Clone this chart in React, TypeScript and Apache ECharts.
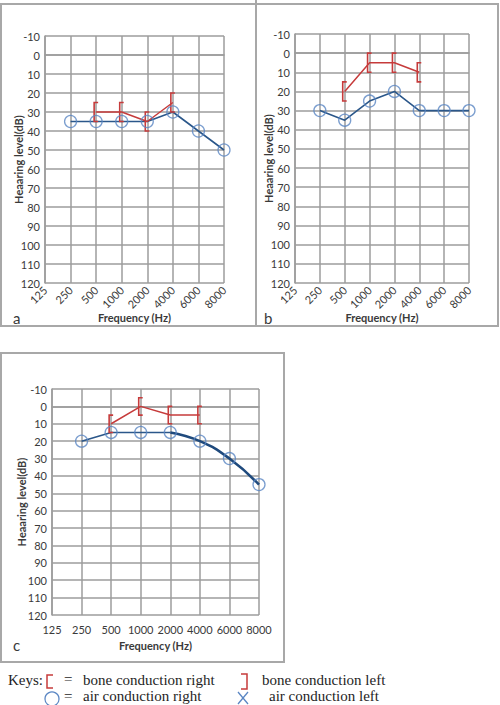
import React, { useEffect, useRef } from "react";
import * as echarts from "echarts";

// Audiogram frequencies (Hz) and hearing thresholds (dB HL) for three cases
const freqLabels = ["125", "250", "500", "1000", "2000", "4000", "6000", "8000"];

const airRightA = [null, 35, 35, 35, 35, 30, 40, 50];
const boneRightA = [null, null, 30, 30, 35, 25, null, null];

const airRightB = [null, 30, 35, 25, 20, 30, 30, 30];
const boneRightB = [null, null, 20, 5, 5, 10, null, null];

const airRightC = [null, 20, 15, 15, 15, 20, 30, 45];
const boneRightC = [null, null, 10, 0, 5, 5, null, null];

const yMin = -10;
const yMax = 120;
const yStep = 10;

const RED = "#c63b3b";
const BLUE_LINE = "#2b578a";
const BLUE_MARK = "#5a86c3";
const GRID = "#9c9c9c";
const TEXT = "#3a3a3a";
const FONT = "Lato, 'Open Sans', sans-serif";
const SERIF = "'Liberation Serif', 'DejaVu Serif', serif";

type Panel = {
  left: number;
  top: number;
  width: number;
  height: number;
  rotate: number;
  nameGap: number;
  yNameGap: number;
};

const panels: Panel[] = [
  { left: 45, top: 36, width: 179, height: 247, rotate: 45, nameGap: 29, yNameGap: 21 },
  { left: 295, top: 34, width: 174, height: 249, rotate: 45, nameGap: 29, yNameGap: 21 },
  { left: 52, top: 389, width: 207, height: 226, rotate: 0, nameGap: 25, yNameGap: 25 },
];

const toPoints = (arr: (number | null)[]) =>
  arr
    .map((v, i) => (v == null ? null : [i, v]))
    .filter((p) => p !== null) as number[][];

// Bone conduction mark: an opening bracket spanning +/-5 dB around the threshold
const bracketItem = (_params: any, api: any) => {
  const idx = api.value(0);
  const v = api.value(1);
  const top = api.coord([idx, v - 5]);
  const bot = api.coord([idx, v + 5]);
  const x = top[0] - 2;
  return {
    type: "polyline",
    shape: {
      points: [
        [x + 4, top[1]],
        [x, top[1]],
        [x, bot[1]],
        [x + 4, bot[1]],
      ],
    },
    style: { stroke: RED, lineWidth: 1.6, fill: "none" },
  };
};

export default function App() {
  const ref = useRef<HTMLDivElement>(null);

  useEffect(() => {
    if (!ref.current) return;
    const chart = echarts.init(ref.current, null, { renderer: "svg" });

    const grids = panels.map((p) => ({
      left: p.left,
      top: p.top,
      width: p.width,
      height: p.height,
      containLabel: false,
    }));

    const xAxes = panels.map((p, i) => ({
      type: "category",
      gridIndex: i,
      data: freqLabels,
      boundaryGap: false,
      name: "Frequency (Hz)",
      nameLocation: "middle",
      nameGap: p.nameGap,
      nameMoveOverlap: false,
      nameTextStyle: { fontFamily: FONT, fontSize: 11, fontWeight: "bold", color: TEXT },
      axisLine: { show: true, lineStyle: { color: GRID, width: 1.5 } },
      axisTick: { show: false },
      axisLabel: {
        interval: 0,
        rotate: p.rotate,
        margin: p.rotate ? 5 : 9,
        fontFamily: FONT,
        fontSize: 11,
        color: TEXT,
      },
      splitLine: { show: true, interval: 0, lineStyle: { color: GRID, width: 1.5 } },
    }));

    const yAxes = panels.map((p, i) => ({
      type: "value",
      gridIndex: i,
      inverse: true,
      min: yMin,
      max: yMax,
      interval: yStep,
      name: "Heaaring level(dB)",
      nameLocation: "middle",
      nameGap: p.yNameGap,
      nameMoveOverlap: false,
      nameTextStyle: { fontFamily: FONT, fontSize: 11, fontWeight: "bold", color: TEXT },
      axisLine: { show: true, lineStyle: { color: GRID, width: 1.5 } },
      axisTick: { show: false },
      axisLabel: { margin: 5, fontFamily: FONT, fontSize: 11, color: TEXT },
      splitLine: { show: true, lineStyle: { color: GRID, width: 1.5 } },
    }));

    const series: any[] = [];
    const sets = [
      { air: airRightA, bone: boneRightA },
      { air: airRightB, bone: boneRightB },
      { air: airRightC, bone: boneRightC },
    ];

    sets.forEach((s, i) => {
      const axisRef = { xAxisIndex: i, yAxisIndex: i };
      if (i < 2) {
        series.push({
          type: "line",
          ...axisRef,
          data: s.air,
          showSymbol: false,
          symbol: "none",
          lineStyle: { color: BLUE_LINE, width: 1.6 },
          z: 3,
        });
      } else {
        // straight segments up to 2 kHz, then a fitted curve over the high frequencies
        const split = 4;
        series.push({
          type: "line",
          ...axisRef,
          data: s.air.map((v, k) => (k <= split ? v : null)),
          symbol: "none",
          lineStyle: { color: BLUE_LINE, width: 1.6 },
          z: 3,
        });
        series.push({
          type: "line",
          ...axisRef,
          data: s.air.map((v, k) => (k >= split ? v : null)),
          symbol: "none",
          smooth: 0.5,
          lineStyle: { color: "#1f4a7d", width: 2.6 },
          z: 3,
        });
      }
      series.push({
        type: "line",
        ...axisRef,
        data: s.bone,
        symbol: "none",
        lineStyle: { color: RED, width: 1.5 },
        z: 4,
      });
      series.push({
        type: "custom",
        ...axisRef,
        data: toPoints(s.bone),
        renderItem: bracketItem,
        z: 5,
      });
      series.push({
        type: "scatter",
        ...axisRef,
        data: toPoints(s.air),
        symbol: "circle",
        symbolSize: 12,
        itemStyle: { color: "rgba(255,255,255,0)", borderColor: BLUE_MARK, borderWidth: 1.3 },
        z: 6,
      });
    });

    const boxStroke = { stroke: "#a8a8a8", lineWidth: 2, fill: "none" };
    const legendText = (x: number, y: number, text: string) => ({
      type: "text",
      x,
      y,
      style: { text, font: `15px ${SERIF}`, fill: "#1e1e1e", verticalAlign: "middle" },
    });

    const graphic: any[] = [
      { type: "rect", shape: { x: 1, y: 4, width: 497, height: 322 }, style: boxStroke },
      { type: "line", shape: { x1: 256, y1: 0, x2: 256, y2: 326 }, style: { stroke: "#a8a8a8", lineWidth: 2 } },
      { type: "rect", shape: { x: 1, y: 353, width: 283, height: 309 }, style: boxStroke },
      { type: "text", x: 13, y: 318, style: { text: "a", font: `15px ${FONT}`, fill: TEXT, verticalAlign: "middle" } },
      { type: "text", x: 264, y: 318, style: { text: "b", font: `15px ${FONT}`, fill: TEXT, verticalAlign: "middle" } },
      { type: "text", x: 13, y: 645, style: { text: "c", font: `15px ${FONT}`, fill: TEXT, verticalAlign: "middle" } },
      // key
      legendText(8, 680, "Keys:"),
      {
        type: "polyline",
        shape: { points: [[53, 675], [47, 675], [47, 688], [53, 688]] },
        style: { stroke: RED, lineWidth: 1.5, fill: "none" },
      },
      legendText(64, 679, "="),
      legendText(83, 680, "bone conduction right"),
      {
        type: "polyline",
        shape: { points: [[241, 674], [247, 674], [247, 689], [241, 689]] },
        style: { stroke: RED, lineWidth: 1.5, fill: "none" },
      },
      legendText(262, 680, "bone conduction left"),
      { type: "circle", shape: { cx: 52, cy: 699, r: 7 }, style: { stroke: BLUE_MARK, lineWidth: 1.3, fill: "none" } },
      legendText(64, 696, "="),
      legendText(83, 696, "air conduction right"),
      { type: "line", shape: { x1: 238, y1: 692, x2: 248, y2: 704 }, style: { stroke: BLUE_MARK, lineWidth: 1.3 } },
      { type: "line", shape: { x1: 248, y1: 692, x2: 238, y2: 704 }, style: { stroke: BLUE_MARK, lineWidth: 1.3 } },
      legendText(269, 696, "air conduction left"),
    ];

    chart.setOption({
      animation: false,
      backgroundColor: "#ffffff",
      grid: grids,
      xAxis: xAxes,
      yAxis: yAxes,
      series,
      graphic,
    });

    return () => chart.dispose();
  }, []);

  return (
    <div
      ref={ref}
      style={{ position: "fixed", left: 0, top: 0, width: 500, height: 705, background: "#fff" }}
    />
  );
}
